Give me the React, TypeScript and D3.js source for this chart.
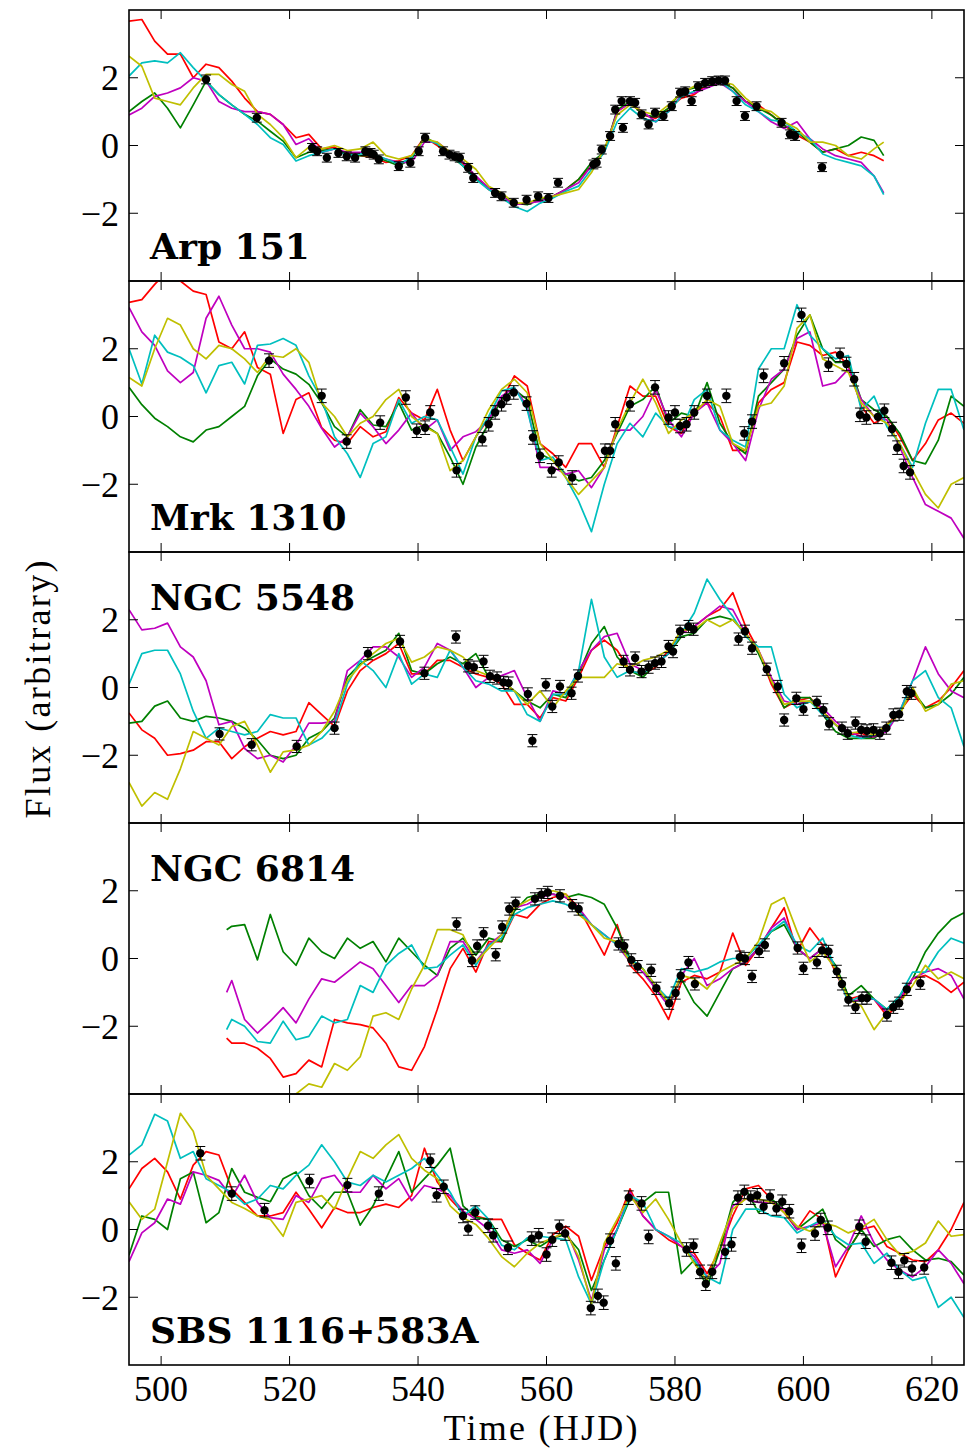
import React from 'react';
import * as d3 from 'd3';

// ---------- axes / labels ----------
const X_DOMAIN: [number, number] = [495, 625];
const Y_DOMAIN: [number, number] = [-4, 4];
const X_TICKS = [500, 520, 540, 560, 580, 600, 620];
const Y_TICKS = [-2, 0, 2];
const Y_TICK_LABELS = ['\u22122', '0', '2'];
const SERIES_COLORS = ['#ff0000', '#008000', '#bf00bf', '#00bfbf', '#bfbf00'];
const PANEL_NAMES = ['Arp 151', 'Mrk 1310', 'NGC 5548', 'NGC 6814', 'SBS 1116+583A'];
const PANEL_LABEL_AT_TOP = [false, false, true, true, false];
const PANEL_ERR = [0.13, 0.2, 0.18, 0.18, 0.2];

// ---------- time grids ----------
const daysFull = d3.range(495, 626, 2);
const daysArp = [...d3.range(495, 612, 2), 612.5];
const days6814 = [510.2, ...d3.range(511, 626, 2)];

// ---------- Arp 151 ----------
const arpRed = [3.67,3.72,3.08,2.7,2.7,2.0,2.4,2.3,1.9,1.4, 1.0,0.92,0.62,0.23,0.33,-0.1,-0.05,-0.25,-0.3,-0.35, -0.5,-0.45,-0.3,0.25,0.0,-0.3,-0.55,-0.95,-1.3,-1.5, -1.75,-1.7,-1.6,-1.5,-1.3,-1.0,-0.6,-0.2,1.0,1.3, 0.9,0.8,1.1,1.4,1.5,1.8,1.9,1.7,1.3,1.2, 0.9,0.6,0.3,0.1,-0.2,-0.1,-0.3,-0.2,-0.3,-0.45];
const arpGreen = [1.0,1.3,1.55,1.1,0.52,1.2,1.9,1.5,1.2,0.92, 0.72,0.42,0.13,-0.36,-0.2,-0.15,-0.1,-0.25,-0.3,-0.3, -0.45,-0.6,-0.4,0.25,0.05,-0.3,-0.6,-1.0,-1.25,-1.5, -1.7,-1.75,-1.6,-1.5,-1.3,-1.0,-0.5,-0.2,1.05,1.3, 0.9,0.85,1.1,1.6,1.7,1.8,1.9,1.7,1.3,1.1, 0.9,0.6,0.4,0.1,-0.2,-0.1,0.0,0.25,0.15,-0.3];
const arpMagenta = [0.9,1.1,1.45,1.55,1.7,2.0,1.9,1.3,1.1,1.0, 1.0,0.92,0.62,0.03,0.2,-0.2,-0.1,-0.2,-0.2,-0.3, -0.4,-0.5,-0.5,0.1,0.1,-0.2,-0.5,-0.9,-1.25,-1.5, -1.75,-1.7,-1.65,-1.5,-1.3,-1.1,-0.6,-0.2,1.0,1.25, 1.0,0.7,1.0,1.5,1.55,1.7,1.85,1.6,1.3,1.0, 0.7,0.5,0.7,0.2,-0.1,-0.3,-0.4,-0.5,-0.9,-1.4];
const arpCyan = [2.05,2.44,2.5,2.44,2.74,2.3,1.9,1.5,1.2,0.92, 0.62,0.23,0.03,-0.46,-0.3,-0.2,-0.1,-0.3,-0.25,-0.25, -0.4,-0.55,-0.35,0.2,0.05,-0.25,-0.6,-1.0,-1.3,-1.55, -1.8,-1.95,-1.7,-1.55,-1.35,-1.2,-0.7,-0.2,0.7,1.1, 0.8,0.7,1.0,1.45,1.6,1.85,1.9,1.6,1.2,1.0, 0.75,0.7,0.4,0.2,-0.25,-0.4,-0.5,-0.6,-0.9,-1.45];
const arpYellow = [2.64,2.34,1.4,1.3,1.2,1.7,2.1,2.1,1.8,1.6, 0.92,0.62,0.23,-0.36,-0.05,-0.1,0.0,-0.15,-0.1,0.1, -0.3,-0.4,-0.3,0.2,0.1,-0.2,-0.4,-0.7,-1.2,-1.4, -1.7,-1.7,-1.55,-1.5,-1.4,-1.3,-0.8,-0.1,0.9,1.2, 1.0,0.9,1.2,1.55,1.75,1.9,1.9,1.8,1.4,1.1, 1.0,0.7,0.5,0.1,0.1,0.0,-0.3,-0.4,-0.1,0.1];
const arpPoints: [number, number][] = [[507,1.95],[514.9,0.82],[523.5,-0.07],[524.3,-0.17],[525.8,-0.36],[527.6,-0.22],[528.9,-0.32],[530.2,-0.36],[531.8,-0.17],[532.6,-0.22],[533.1,-0.27],[533.9,-0.41],[537,-0.61],[538.8,-0.51],[540.1,-0.17],[541.1,0.23],[543.9,-0.17],[544.9,-0.27],[545.7,-0.32],[546.5,-0.36],[547.8,-0.66],[548.6,-0.96],[552,-1.4],[553,-1.5],[554.9,-1.69],[556.9,-1.6],[558.7,-1.5],[560.3,-1.55],[561.8,-1.1],[567.3,-0.56],[567.8,-0.51],[568.6,-0.12],[569.9,0.28],[570.7,1.06],[571.7,1.31],[571.9,0.52],[573,1.31],[573.8,1.26],[574.8,0.92],[575.9,0.62],[576.9,0.97],[578.2,0.87],[579.5,1.16],[580.8,1.56],[581.6,1.6],[582.6,1.31],[583.6,1.75],[584.7,1.85],[585.8,1.9],[586.8,1.92],[587.8,1.92],[589.6,1.31],[590.9,0.87],[592.7,1.16],[596.6,0.67],[597.9,0.33],[598.7,0.28],[602.9,-0.64]];

// ---------- Mrk 1310 ----------
const mrkRed = [3.37,3.45,3.9,4.3,4.0,3.7,3.6,2.2,2.0,2.5, 1.45,1.25,-0.5,0.5,0.7,-0.33,-0.7,-0.8,-0.3,-0.6, -0.45,0.56,0.1,-0.1,0.8,-0.4,-1.3,-0.6,-0.05,0.46, 1.2,0.9,-0.8, -1.1,-1.5,-0.8,-0.8,-1.5,-0.3,0.9,0.6,0.6,-0.3, -0.5,0.2,0.4,0.0,-1.0,-1.0,0.4,0.8,1.0,2.2, 2.1,1.8,1.9,1.5,0.3,-0.2,0.0,-0.6,-1.3,-0.8, -0.1,0.1,-0.2];
const mrkGreen = [0.86,0.35,-0.05,-0.3,-0.6,-0.75,-0.4,-0.3,0.0,0.3, 1.2,1.7,1.4,1.25,0.95,0.4,-0.3,-0.6,0.2,-0.25, -0.3,0.4,-0.4,-0.25,-0.5,-1.2,-2.0,-0.9,-0.2,0.5, 0.8,0.5,-1.1, -1.3,-1.7,-1.9,-1.8,-1.3,-0.5,0.3,0.5,0.9,-0.2, 0.1,0.0,1.0,-0.2,-0.8,-1.1,0.6,1.0,1.4,2.4, 3.0,2.0,1.6,1.6,0.5,0.2,0.0,-0.5,-1.3,-1.4, -0.7,0.6,0.3];
const mrkMagenta = [3.22,2.5,2.1,1.35,1.0,1.3,2.9,3.55,2.7,2.0, 2.0,1.9,1.25,0.8,0.3,-0.35,-0.9,-0.6,0.1,-0.3, -0.8,-0.4,0.1,-0.4,-0.1,-1.0,-0.6,-0.45,-0.1,0.6, 0.85,0.3,-1.5, -1.5,-1.7,-1.6,-2.1,-1.5,-0.4,-0.4,0.0,0.8,-0.1, -0.6,0.1,0.4,-0.4,-0.8,-1.3,0.2,1.1,1.4,2.3, 2.5,0.9,1.0,1.4,0.5,0.0,-0.1,-0.9,-1.8,-2.6, -2.8,-3.0,-3.6];
const mrkCyan = [2.0,0.96,2.4,1.9,1.75,1.5,0.7,1.5,1.6,0.96, 2.1,2.14,2.3,2.1,1.2,0.5,-0.6,-1.1,-1.8,-0.8, -0.6,0.5,-0.2,0.0,-0.1,-0.9,-1.7,-0.6,0.0,0.76, 0.86,0.2,-1.3, -1.2,-1.8,-2.5,-3.4,-2.0,-0.8,-0.2,-0.6,0.1,-0.3, -0.4,0.5,0.8,-0.4,-0.7,-0.9,1.4,2.0,2.0,3.3, 2.4,2.0,1.7,1.8,0.2,0.6,-0.3,-0.8,-1.5,-0.2, 0.8,0.8,-0.4];
const mrkYellow = [1.15,0.9,2.0,2.9,2.7,2.0,1.7,2.1,2.0,1.7, 1.3,1.8,1.75,2.0,1.6,0.4,0.0,-0.6,-0.2,0.0, 0.5,0.8,0.0,-0.3,-0.5,-1.6,-1.3,-0.6,0.2,0.8, 1.1,0.7,-0.8, -1.3,-1.8,-2.3,-1.9,-1.5,-0.4,0.4,1.1,0.4,-0.5, -0.1,0.1,0.5,0.3,-0.8,-1.0,0.3,0.4,0.9,2.6, 3.0,1.7,1.5,1.3,0.4,0.0,-0.2,-0.8,-1.6,-2.3, -2.7,-2.0,-1.8];
const mrkPoints: [number, number][] = [[516.8,1.65],[525,0.61],[528.9,-0.74],[534.1,-0.18],[538.1,0.56],[539.8,-0.42],[541.1,-0.33],[541.9,0.12],[546,-1.59],[550,-0.67],[551,-0.23],[552,0.12],[553,0.36],[553.8,0.56],[554.9,0.71],[556.9,0.38],[557.9,-0.62],[559,-1.16],[560.8,-1.59],[561.9,-1.36],[564,-1.8],[569.1,-1.01],[569.9,-1.01],[570.7,-0.23],[573,0.36],[576.9,0.86],[579,-0.03],[580,0.12],[580.8,-0.28],[581.8,-0.23],[583,0.12],[585,0.61],[588,0.61],[590.8,-0.5],[592,-0.15],[593.8,1.2],[597,1.57],[599.7,3.0],[603.9,1.53],[605.7,1.82],[606.7,1.55],[607.9,1.1],[608.8,0.05],[609.8,-0.03],[611.6,-0.01],[612.6,0.17],[613.8,-0.37],[614.6,-0.92],[615.6,-1.46],[616.6,-1.65]];

// ---------- NGC 5548 ----------
const n5548Red = [-0.75,-1.25,-1.5,-2.0,-1.95,-1.85,-1.6,-1.6,-2.1,-1.75, -1.5,-1.3,-1.4,-1.3,-0.45,-0.8,-1.15,-0.1,0.5,0.8, 1.0,1.3,0.4,0.4,0.8,0.8,0.6,0.4,0.3,0.1, -0.5,-0.5,-0.9, -0.3,-0.4,0.3,1.1,1.4,1.1,0.5,0.4,0.6,1.1, 1.6,1.8,2.1,2.3,2.8,1.8,1.1,0.1,-0.6,-0.4, -0.3,-0.7,-1.1,-1.4,-1.35,-1.5,-1.1,-0.7,-0.2,-0.6, -0.4,0.0,0.5];
const n5548Green = [-1.05,-1.0,-0.55,-0.4,-0.9,-1.0,-0.85,-0.9,-1.0,-1.2, -1.55,-2.0,-2.1,-2.0,-1.5,-1.3,-0.9,0.3,0.7,0.9, 1.1,1.6,0.5,0.4,0.7,0.9,0.7,1.0,0.3,0.2, -0.1,-0.4,-0.6, -0.2,-0.3,0.4,1.3,1.8,0.9,0.5,0.3,0.7,1.0, 1.5,1.6,2.0,2.1,2.0,1.6,1.0,0.2,-0.6,-0.3, -0.3,-0.8,-1.3,-1.5,-1.5,-1.5,-1.2,-0.7,-0.1,-0.6, -0.5,-0.2,0.3];
const n5548Magenta = [2.3,1.7,1.75,1.9,1.2,0.9,0.2,-1.1,-1.0,-1.8, -2.1,-2.0,-2.2,-1.7,-1.05,-1.05,-1.0,0.5,0.8,1.2, 1.2,0.9,0.3,0.6,1.3,1.1,0.6,0.0,0.3,0.35, 0.5,-0.3,-1.0, -0.1,-0.2,0.5,1.1,1.5,1.6,0.7,0.5,0.7,1.0, 1.6,1.8,2.1,2.4,2.3,1.6,1.1,0.3,-0.4,-0.5, -0.4,-0.6,-1.0,-1.3,-1.45,-1.45,-1.3,-0.7,0.2,1.2, 0.4,-0.1,-0.3];
const n5548Cyan = [0.1,1.0,1.1,1.1,0.4,-0.7,-1.5,-1.2,-1.3,-1.4, -1.3,-0.8,-0.9,-0.9,-1.7,-1.5,-1.1,0.1,0.8,0.5, 0.0,1.0,0.1,0.4,0.3,1.1,0.6,0.2,0.1,-0.1, -0.1,-0.8,-1.0, -0.2,-0.2,0.5,2.6,0.9,0.3,0.5,0.4,0.7,1.0, 1.6,2.2,3.2,2.6,2.1,1.5,1.2,1.2,-0.2,-0.6, -0.4,-0.8,-1.1,-1.4,-1.5,-1.4,-1.2,-0.7,0.2,0.5, -0.3,-0.6,-1.75];
const n5548Yellow = [-2.8,-3.5,-3.1,-3.3,-2.4,-1.3,-1.5,-1.7,-1.15,-1.0, -1.7,-2.5,-1.9,-1.84,-1.7,-1.3,-0.7,0.2,0.65,1.0, 1.3,1.45,0.75,0.9,1.2,1.1,0.9,0.5,0.35,0.2, -0.1,-0.5,-0.1, -0.6,-0.1,0.3,0.3,0.3,0.7,0.6,0.8,0.9,1.1, 1.7,1.7,2.0,1.8,2.0,1.6,1.1,0.2,-0.5,-0.4, -0.4,-0.7,-1.1,-1.35,-1.3,-1.4,-1.1,-0.8,0.0,-0.7, -0.5,0.1,0.2];
const n5548Points: [number, number][] = [[509.1,-1.37],[514.1,-1.69],[521.1,-1.74],[527,-1.2],[532.2,1.0],[537.2,1.36],[541,0.42],[545.9,1.49],[547.8,0.64],[548.7,0.6],[550.2,0.77],[551.2,0.33],[552.3,0.28],[553.3,0.15],[554.1,0.13],[557.1,-0.19],[557.8,-1.57],[559.9,0.08],[560.9,-0.56],[562.1,0.03],[563.9,-0.17],[564.9,0.34],[572,0.77],[573,0.52],[573.8,0.87],[574.8,0.47],[575.9,0.6],[576.9,0.72],[577.9,0.77],[579,1.21],[579.7,1.06],[580.8,1.66],[582.1,1.8],[582.9,1.72],[589.9,1.43],[590.9,1.66],[592,1.16],[594.3,0.54],[596,0.03],[597,-0.96],[598.9,-0.32],[600,-0.64],[602.1,-0.44],[603.1,-0.66],[604,-1.07],[606,-1.2],[606.9,-1.35],[608.1,-1.05],[609,-1.25],[609.9,-1.28],[610.9,-1.25],[611.9,-1.35],[612.9,-1.2],[614,-0.81],[614.9,-0.79],[616.1,-0.12],[616.8,-0.17]];

// ---------- NGC 6814 ----------
const n6814Red = [-2.35,-2.5,-2.5,-2.65,-2.95,-3.5,-3.4,-3.0,-3.2,-1.8, -1.9,-1.95,-2.05,-2.5,-3.2,-3.3,-2.6,-1.5,-0.3,0.3, -0.4,0.5,0.5,1.3,1.2,1.6, 1.8,1.9,1.5,0.8,0.1,1.0,-0.2,-0.6,-1.1,-1.8, -0.7,-0.5,-0.6,-0.4,0.75,-0.2,0.3,0.9,1.5,0.2, 0.9,0.4,-0.4,-1.2,-1.1,-1.2,-1.7,-1.3,-0.6,-0.5, -0.7,-1.0,-0.7];
const n6814Green = [0.85,0.95,1.0,-0.04,1.3,0.2,-0.2,0.6,0.2,0.0, 0.6,0.3,0.5,-0.1,0.6,0.2,-0.2,-0.5,0.3,0.6, 0.1,0.6,0.5,1.4,1.8,1.9, 1.9,1.8,1.9,1.8,1.6,0.9,0.0,-0.3,-0.9,-1.3, -0.6,-1.3,-1.7,-1.0,-0.3,-0.1,0.3,0.8,1.0,0.3, 0.0,0.3,-0.2,-1.1,-0.8,-1.2,-1.5,-1.1,-0.6,0.2, 0.75,1.15,1.35];
const n6814Magenta = [-1.0,-0.65,-1.8,-2.2,-1.85,-1.45,-1.9,-1.2,-0.6,-0.7, -0.4,-0.1,-0.3,-0.8,-1.3,-0.8,-0.8,-0.5,0.5,0.5, -0.1,0.4,0.7,1.5,1.6,1.8, 1.9,1.8,1.5,1.0,0.7,0.4,-0.1,-0.4,-0.9,-1.4, -0.5,0.0,-0.8,-0.6,-0.3,-0.1,0.3,0.9,1.2,0.3, 0.0,0.3,-0.3,-1.3,-1.2,-1.2,-1.6,-1.2,-0.6,-0.4, -0.3,-0.5,-1.2];
const n6814Cyan = [-2.1,-1.8,-2.0,-2.45,-2.5,-1.85,-2.4,-2.3,-1.7,-1.9, -1.8,-0.8,-1.0,-0.2,0.15,0.4,-0.3,-0.25,0.1,0.4, -0.2,0.4,0.6,1.3,1.5,1.6, 1.7,1.6,1.4,1.0,0.7,0.4,0.0,-0.3,-0.8,-1.2, -0.3,-0.4,-0.3,-0.1,0.0,0.0,0.4,0.8,1.1,0.4, 0.2,0.6,-0.3,-1.3,-1.1,-1.2,-1.5,-1.1,-0.4,-0.4, 0.2,0.6,0.45];
const n6814Yellow: (number | null)[] = [null,null,null,null,null,-4.3,-4.0,-3.7,-3.8,-3.1, -3.3,-2.9,-1.7,-1.6,-1.8,-0.9,-0.2,0.85,0.85,0.7, -0.1,0.3,0.7,1.5,1.7,1.9, 2.0,1.9,1.3,1.0,0.6,0.5,-0.1,-0.3,-0.8,-1.3, -0.5,-0.6,-0.9,-0.4,-0.2,0.0,0.5,1.6,1.8,0.8, -0.1,0.2,-0.3,-1.2,-1.4,-2.1,-1.6,-1.3,-0.8,-0.2, -0.6,-0.4,-0.6];
const n6814Points: [number, number][] = [[546,1.02],[548.4,-0.06],[549.2,0.37],[550.2,0.73],[552.1,0.11],[553.1,0.93],[554.2,1.46],[555.2,1.63],[558.2,1.76],[559.2,1.88],[560.2,1.95],[562.1,1.85],[564,1.56],[565,1.46],[571.2,0.43],[572.1,0.37],[573.2,-0.04],[574.2,-0.24],[576.3,-0.35],[577.1,-0.88],[579.1,-1.32],[580.1,-1.02],[580.9,-0.51],[582.1,-0.12],[583.1,-0.75],[590.1,0.04],[590.9,0.0],[592,-0.53],[593.1,0.21],[594,0.4],[599.1,0.31],[600,-0.29],[602.1,-0.12],[602.9,0.24],[603.9,0.21],[605.2,-0.38],[606,-0.75],[607,-1.22],[608.1,-1.44],[609.1,-1.17],[609.9,-1.17],[613,-1.67],[614,-1.44],[614.9,-1.32],[616.1,-0.91],[618.2,-0.73]];

// ---------- SBS 1116+583A ----------
const sbsRed = [1.2,1.8,2.1,1.7,0.9,1.9,2.3,2.2,1.2,0.8, 0.4,0.4,0.5,1.1,0.6,0.05,0.65,0.5,0.5,0.65, 0.75,0.65,1.0,2.4,1.4,0.9,0.5,0.4,0.3,0.3, -0.45,-0.7,-0.9, -0.15,0.1,-0.2,-1.5,-0.5,0.2,1.2,0.4,0.0,-0.3, -0.5,-0.7,-1.3,-0.6,0.4,1.2,1.3,0.9,0.5,0.0, 0.55,0.3,-1.4,-0.6,0.0,0.1,-0.5,-0.7,-0.9,-0.95, -0.6,0.0,0.8];
const sbsGreen = [-0.76,0.4,0.3,0.0,1.5,1.7,0.2,0.5,1.8,1.1, 0.95,0.82,1.5,1.7,1.0,0.62,1.1,1.1,0.13,0.7, 1.5,2.3,1.1,1.5,1.9,2.4,0.7,0.35,0.3,-0.3, -0.5,-0.3,-0.5, -0.25,-0.15,-0.6,-1.8,-0.9,0.0,0.9,0.8,1.1,1.1, -1.3,-0.9,-1.7,-0.6,0.8,1.2,0.5,0.9,0.6,0.0, 0.3,0.6,-0.3,-0.6,0.0,-0.5,-0.3,-0.2,-0.6,-0.9, -0.85,-0.95,-1.35];
const sbsMagenta = [-0.95,-0.1,0.2,0.9,0.75,1.7,1.6,1.45,0.95,1.6, 0.8,0.35,0.3,1.0,0.8,1.5,1.6,1.1,1.1,1.6, 1.2,1.5,0.85,1.3,1.2,1.0,0.55,0.3,0.0,-0.6, -0.7,-0.6,-1.0, -0.3,0.0,-0.9,-2.1,-0.6,0.0,1.1,0.4,0.0,-0.2, -0.5,-0.8,-1.4,-1.0,0.7,0.9,0.8,0.8,0.6,0.0, 0.1,0.2,-1.1,-0.5,0.4,-0.4,-0.9,-1.2,-1.4,-1.1, -0.6,-1.0,-1.6];
const sbsCyan = [2.2,2.5,3.4,3.2,2.1,2.3,1.5,1.3,1.1,0.75, 0.9,1.3,1.2,1.6,1.9,2.5,2.0,1.4,1.3,1.6, 1.4,1.6,1.8,2.1,1.6,1.1,0.4,0.7,0.3,-0.46, -0.6,-0.25,-0.2, -0.25,-0.3,-1.4,-2.2,-0.9,0.0,1.0,0.8,0.0,-0.2, -0.4,-0.9,-1.4,-1.6,0.0,0.6,0.6,0.4,0.35,-0.1, 0.1,0.3,-0.2,-0.45,-0.4,-1.0,-0.7,-1.2,-1.5,-1.4, -2.3,-2.0,-2.6];
const sbsYellow = [0.82,0.3,0.6,2.0,3.43,2.9,1.6,1.2,0.8,0.62, 0.4,0.3,-0.2,0.8,0.9,1.0,0.6,1.5,2.3,2.1, 2.5,2.8,2.1,1.75,1.5,0.7,0.35,0.15,-0.27,-0.8, -1.1,-0.7,-0.4, -0.25,-0.07,-0.8,-2.2,-0.4,0.3,1.0,0.5,0.9,0.3, -0.4,-1.0,-1.5,-0.4,0.6,0.9,0.9,0.8,0.5,0.1, -0.05,0.2,0.1,-0.1,0.05,0.3,-0.3,-0.75,-0.65,-0.4, 0.25,-0.2,-0.15];
const sbsPoints: [number, number][] = [[506.1,2.25],[511,1.06],[516.1,0.57],[523.1,1.43],[529,1.31],[533.9,1.06],[541.9,2.03],[542.9,1.01],[544,1.26],[547,0.4],[547.8,0.03],[548.9,0.5],[550.9,0.11],[551.7,-0.17],[554,-0.54],[557.7,-0.27],[558.8,-0.17],[560,-0.74],[560.9,-0.3],[562,0.08],[562.9,-0.12],[566.9,-2.32],[568,-1.96],[568.9,-2.16],[569.9,-0.33],[570.8,-1.0],[572.8,0.94],[574.8,0.77],[575.9,-0.22],[581.8,-0.59],[582.9,-0.48],[583.9,-1.25],[584.8,-1.6],[585.8,-1.25],[587.8,-0.66],[588.8,-0.44],[589.8,0.94],[590.8,1.11],[591.8,0.94],[592.8,1.01],[593.8,0.67],[594.8,0.97],[595.8,0.62],[596.7,0.82],[597.8,0.54],[599.7,-0.48],[601.8,-0.12],[602.7,0.28],[603.8,0.05],[608.7,0.08],[609.7,-0.36],[613.7,-0.98],[614.8,-1.25],[615.7,-0.91],[616.9,-1.15],[618.8,-1.12]];

type Panel = { days: number[]; series: (number | null)[][]; points: [number, number][] };
const PANELS: Panel[] = [
  { days: daysArp, series: [arpRed, arpGreen, arpMagenta, arpCyan, arpYellow], points: arpPoints },
  { days: daysFull, series: [mrkRed, mrkGreen, mrkMagenta, mrkCyan, mrkYellow], points: mrkPoints },
  { days: daysFull, series: [n5548Red, n5548Green, n5548Magenta, n5548Cyan, n5548Yellow], points: n5548Points },
  { days: days6814, series: [n6814Red, n6814Green, n6814Magenta, n6814Cyan, n6814Yellow], points: n6814Points },
  { days: daysFull, series: [sbsRed, sbsGreen, sbsMagenta, sbsCyan, sbsYellow], points: sbsPoints },
];

const W = 973;
const H = 1450;
const LEFT = 129;
const RIGHT = 964;
const TOP = 10;
const PANEL_H = 271;
const TICK = 9;
const SERIF = "'Liberation Serif', 'Times New Roman', serif";

export default function App() {
  const x = d3.scaleLinear().domain(X_DOMAIN).range([LEFT, RIGHT]);
  const bottom = TOP + PANEL_H * PANELS.length;
  return (
    <svg width={W} height={H} viewBox={`0 0 ${W} ${H}`}
      style={{ position: 'absolute', left: 0, top: 0, background: '#fff' }}>
      <rect x={0} y={0} width={W} height={H} fill="#fff" />
      <defs>
        {PANELS.map((_, i) => (
          <clipPath id={`clip${i}`} key={i}>
            <rect x={LEFT} y={TOP + i * PANEL_H} width={RIGHT - LEFT} height={PANEL_H} />
          </clipPath>
        ))}
      </defs>
      {PANELS.map((p, i) => {
        const top = TOP + i * PANEL_H;
        const y = d3.scaleLinear().domain(Y_DOMAIN).range([top + PANEL_H, top]);
        const line = d3.line<[number, number | null]>()
          .defined(d => d[1] != null)
          .x(d => x(d[0]))
          .y(d => y(d[1] as number));
        const err = PANEL_ERR[i];
        const labelY = PANEL_LABEL_AT_TOP[i] ? top + 58 : top + PANEL_H - 22;
        return (
          <g key={i}>
            <g clipPath={`url(#clip${i})`}>
              {p.series.map((s, k) => (
                <path key={k}
                  d={line(p.days.map((d, j) => [d, s[j] ?? null] as [number, number | null])) || ''}
                  fill="none" stroke={SERIES_COLORS[k]} strokeWidth={1.7} strokeLinejoin="round" />
              ))}
              {p.points.map(([d, v], j) => (
                <g key={j} stroke="#000" strokeWidth={1}>
                  <line x1={x(d)} x2={x(d)} y1={y(v - err)} y2={y(v + err)} />
                  <line x1={x(d) - 5} x2={x(d) + 5} y1={y(v - err)} y2={y(v - err)} />
                  <line x1={x(d) - 5} x2={x(d) + 5} y1={y(v + err)} y2={y(v + err)} />
                  <circle cx={x(d)} cy={y(v)} r={4.2} fill="#000" stroke="none" />
                </g>
              ))}
            </g>
            {X_TICKS.map(t => (
              <g key={t} stroke="#000" strokeWidth={1}>
                <line x1={x(t)} x2={x(t)} y1={top} y2={top + TICK} />
                <line x1={x(t)} x2={x(t)} y1={top + PANEL_H} y2={top + PANEL_H - TICK} />
              </g>
            ))}
            {Y_TICKS.map((t, k) => (
              <g key={t}>
                <line x1={LEFT} x2={LEFT + TICK} y1={y(t)} y2={y(t)} stroke="#000" strokeWidth={1} />
                <line x1={RIGHT} x2={RIGHT - TICK} y1={y(t)} y2={y(t)} stroke="#000" strokeWidth={1} />
                <text x={LEFT - 10} y={y(t)} dy="0.35em" textAnchor="end"
                  fontFamily={SERIF} fontSize={36} fill="#000">{Y_TICK_LABELS[k]}</text>
              </g>
            ))}
            <rect x={LEFT} y={top} width={RIGHT - LEFT} height={PANEL_H}
              fill="none" stroke="#000" strokeWidth={1.6} />
            <text x={150} y={labelY} fontFamily="'DejaVu Serif', serif" fontWeight="bold"
              fontSize={36} fill="#000">{PANEL_NAMES[i]}</text>
          </g>
        );
      })}
      {X_TICKS.map(t => (
        <text key={t} x={x(t)} y={bottom + 36} textAnchor="middle"
          fontFamily={SERIF} fontSize={36} fill="#000">{t}</text>
      ))}
      <text x={(LEFT + RIGHT) / 2 - 6} y={bottom + 75} textAnchor="middle"
        fontFamily={SERIF} fontSize={36} fill="#000" textLength={194}>Time (HJD)</text>
      <text transform={`translate(50, ${TOP + PANEL_H * 2.5 + 2}) rotate(-90)`} textAnchor="middle"
        fontFamily={SERIF} fontSize={36} fill="#000" textLength={258}>Flux (arbitrary)</text>
    </svg>
  );
}
